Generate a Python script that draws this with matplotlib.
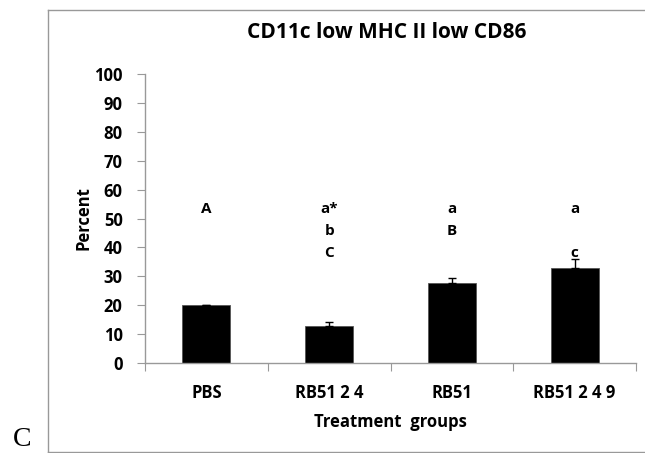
import matplotlib
matplotlib.use("Agg")
import matplotlib.pyplot as plt
from matplotlib.lines import Line2D
from matplotlib import font_manager

groups = ["PBS", "RB51 2 4", "RB51", "RB51 2 4 9"]
percent = [20.0, 12.7, 27.6, 33.0]
sem = [0.2, 1.6, 1.7, 2.9]
letters = [["A"], ["a*", "b", "C"], ["a", "B"], ["a", None, "c"]]
letter_rows = [53.2, 45.8, 38.2]

avail = {f.name for f in font_manager.fontManager.ttflist}
fam = [f for f in ["Liberation Sans Narrow", "Open Sans", "DejaVu Sans"] if f in avail]
plt.rcParams["font.family"] = fam
plt.rcParams["font.weight"] = "bold"

W, H = 645, 453
fig = plt.figure(figsize=(W / 100, H / 100), dpi=100)
ax = fig.add_axes([145 / W, 1 - 363 / H, (636 - 145) / W, (363 - 74) / H])

x = list(range(len(groups)))
ax.bar(x, percent, width=0.39, color="black", edgecolor="#555555", linewidth=0.6, zorder=2)
ax.errorbar(x, percent, yerr=[[0] * len(sem), sem], fmt="none", ecolor="black",
            elinewidth=1.0, capsize=3, capthick=1.0, zorder=3)

for xi, labs in zip(x, letters):
    for lab, yv in zip(labs, letter_rows):
        if lab:
            ax.text(xi, yv, lab, ha="center", va="center", fontsize=11, fontweight="bold")

ax.set_xlim(-0.5, len(groups) - 0.5)
ax.set_ylim(0, 100)
ax.set_yticks(range(0, 101, 10))
ax.set_xticks([i - 0.5 for i in range(len(groups) + 1)], minor=False)
ax.set_xticklabels([])
ax.set_xticks(x, minor=True)
ax.set_xticklabels(groups, minor=True)
ax.tick_params(axis="x", which="major", length=6, color="#999999", direction="out")
ax.tick_params(axis="x", which="minor", length=0, pad=15, labelsize=12)
ax.tick_params(axis="y", length=6, color="#999999", labelsize=12, pad=10)
for lbl in ax.get_yticklabels() + ax.get_xticklabels(minor=True):
    lbl.set_fontweight("bold")

for s in ["top", "right"]:
    ax.spines[s].set_visible(False)
for s in ["left", "bottom"]:
    ax.spines[s].set_color("#999999")
    ax.spines[s].set_linewidth(1.0)

ax.set_ylabel("Percent", fontsize=12, fontweight="bold", labelpad=1)
ax.set_xlabel("Treatment  groups", fontsize=12, fontweight="bold", labelpad=8)
fig.text(387 / W, 1 - 33 / H, "CD11c low MHC II low CD86", ha="center", va="center",
         fontsize=15, fontweight="bold")

# open panel frame: left, top and bottom edges only
fx0, fy0, fy1 = 48 / W, 1 - 452 / H, 1 - 10 / H
for xs, ys in [([fx0, fx0], [fy0, fy1]), ([fx0, 1.0], [fy1, fy1]), ([fx0, 1.0], [fy0, fy0])]:
    fig.add_artist(Line2D(xs, ys, transform=fig.transFigure, color="#999999", linewidth=1.0))
fig.text(22 / W, 1 - 440 / H, "C", ha="center", va="center", fontsize=20,
         family=["Liberation Serif", "DejaVu Serif"], fontweight="normal")

fig.savefig("out.png", dpi=100)
